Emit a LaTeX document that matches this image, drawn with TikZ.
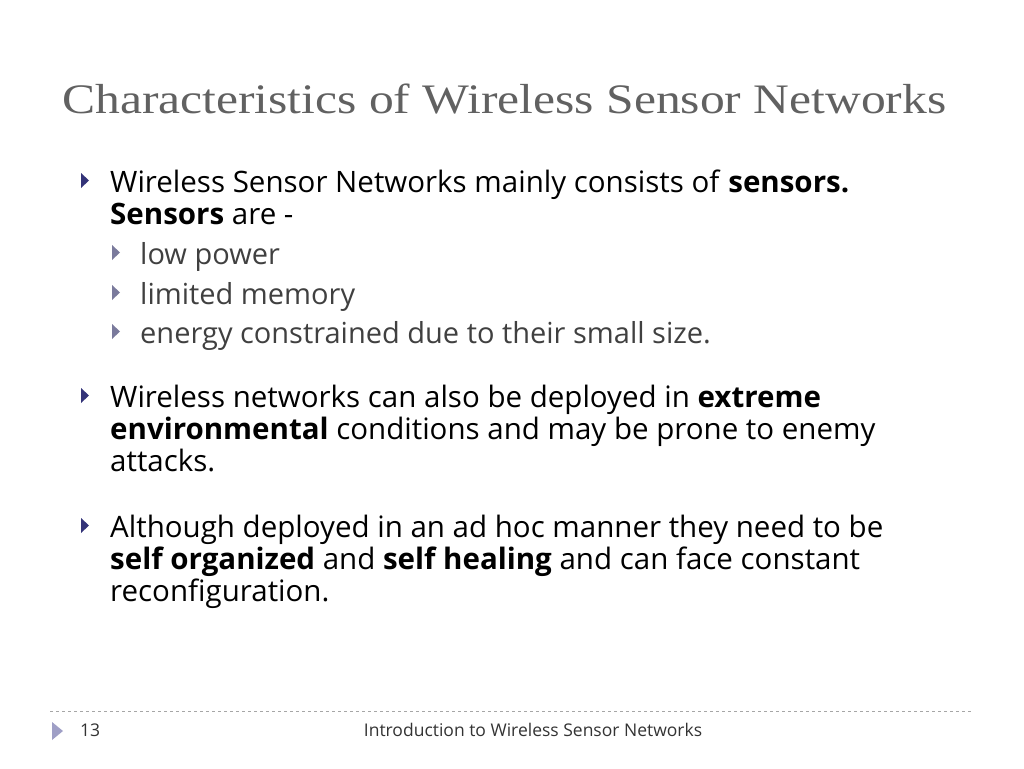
\documentclass[tikz,border=0pt]{standalone}
\usepackage{fontspec}
\setmainfont{Open Sans}
\newfontfamily\titlefont{Liberation Serif}
\begin{document}
\begin{tikzpicture}[x=1pt,y=-1pt,
  txt/.style={anchor=base west,inner sep=0pt,font=\fontsize{29.5}{32}\selectfont,text=black},
  sub/.style={anchor=base west,inner sep=0pt,font=\fontsize{29}{32}\selectfont,text=black!75},
  bul/.style={fill=black!55!blue!60!gray},
  sbul/.style={fill=black!45!blue!30!gray!80}]
\useasboundingbox (0,0) rectangle (1024,768);
\node[anchor=base west,inner sep=0pt,font=\titlefont\fontsize{42}{46}\selectfont,text=black!62] (title) at (62,113) {\scalebox{1.18}[1]{Characteristics of Wireless Sensor Networks}};
\newcommand\bulat[2]{\fill[#2] (#1) ++(0,-19) -- ++(8,7.5) -- ++(-8,7.5) -- cycle;}
\coordinate (b1) at (81,192);\bulat{b1}{bul}
\node[txt] (l1) at (110,192) {Wireless Sensor Networks mainly consists of \textbf{sensors.}};
\node[txt] (l2) at (110,224) {\textbf{Sensors} are -};
\coordinate (s1) at (112,264);\bulat{s1}{sbul}
\node[sub] (l3) at (140,264) {low power};
\coordinate (s2) at (112,304);\bulat{s2}{sbul}
\node[sub] (l4) at (140,304) {limited memory};
\coordinate (s3) at (112,343);\bulat{s3}{sbul}
\node[sub] (l5) at (140,343) {energy constrained due to their small size.};
\coordinate (b2) at (81,407);\bulat{b2}{bul}
\node[txt] (l6) at (110,407) {Wireless networks can also be deployed in \textbf{extreme}};
\node[txt] (l7) at (110,439) {\textbf{environmental} conditions and may be prone to enemy};
\node[txt] (l8) at (110,471) {attacks.};
\coordinate (b3) at (81,537);\bulat{b3}{bul}
\node[txt] (l9) at (110,537) {Although deployed in an ad hoc manner they need to be};
\node[txt] (l10) at (110,569) {\textbf{self organized} and \textbf{self healing} and can face constant};
\node[txt] (l11) at (110,601) {reconfiguration.};
\draw[black!35,dashed,line width=0.8pt] (50,711) -- (972,711);
\fill[blue!25!gray!60] (52,722) -- (63,731) -- (52,740) -- cycle;
\node[anchor=base west,inner sep=0pt,font=\fontsize{17.5}{20}\selectfont,text=black!80] (pg) at (80,736) {13};
\node[anchor=base,inner sep=0pt,font=\fontsize{17.5}{20}\selectfont,text=black!80] (ft) at (533,736) {Introduction to Wireless Sensor Networks};
\end{tikzpicture}
\end{document}
